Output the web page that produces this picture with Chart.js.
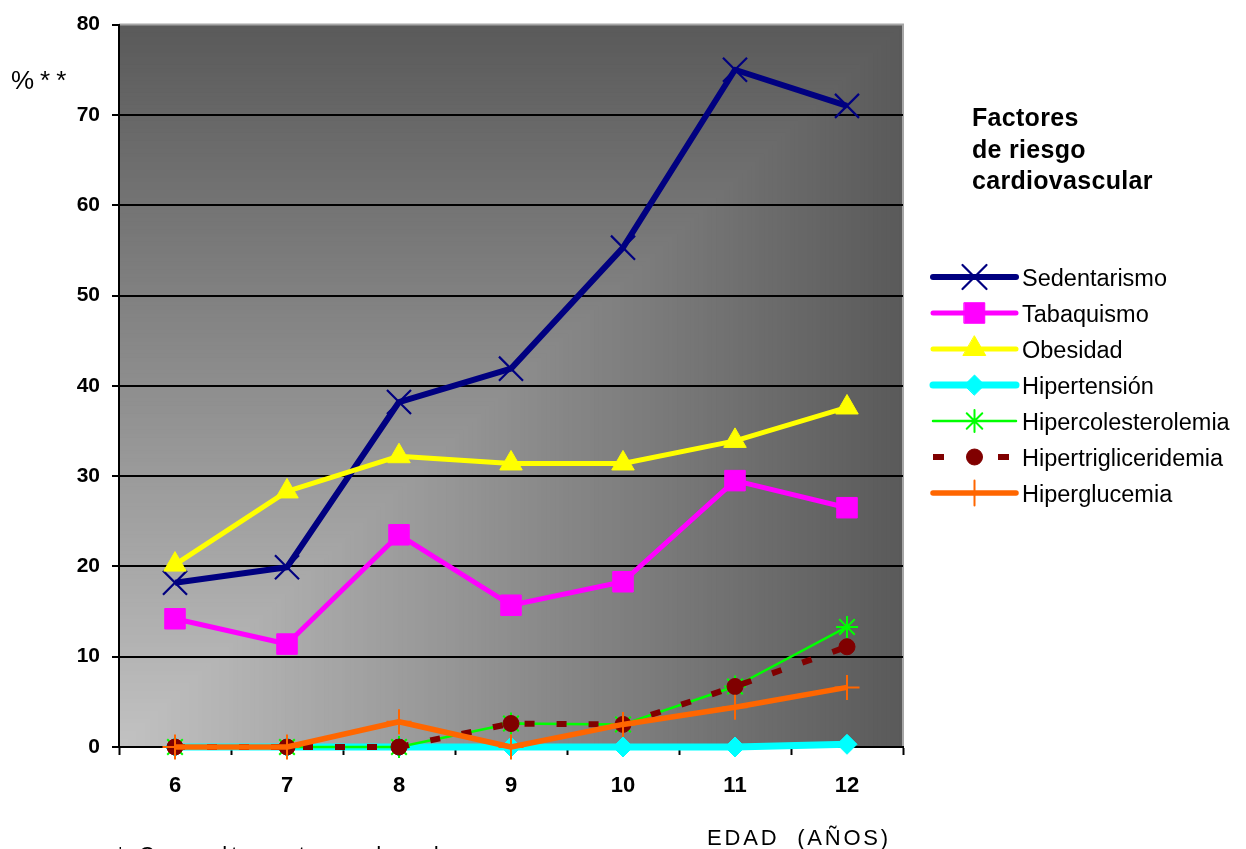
<!DOCTYPE html>
<html>
<head>
<meta charset="utf-8">
<script src="https://cdn.jsdelivr.net/npm/chart.js@4.4.1/dist/chart.umd.min.js"></script>
<style>
  html, body { margin: 0; padding: 0; background: #ffffff; }
  canvas { display: block; }
</style>
</head>
<body>
<canvas id="grafico" width="1246" height="849"></canvas>
<script>
// Edad (años) y porcentajes por factor de riesgo
const edades = ['6', '7', '8', '9', '10', '11', '12'];
const marcasY = [0, 10, 20, 30, 40, 50, 60, 70, 80];

const sedentarismo         = [18.2, 19.9, 38.2, 41.9, 55.3, 75.0, 71.0];
const tabaquismo           = [14.2, 11.4, 23.5, 15.7, 18.3, 29.5, 26.5];
const obesidad             = [20.2, 28.3, 32.2, 31.4, 31.4, 33.9, 37.6];
const hipertension         = [0, 0, 0, 0, 0, 0, 0.3];
const hipercolesterolemia  = [0, 0, 0, 2.6, 2.5, 6.7, 13.3];
const hipertrigliceridemia = [0, 0, 0, 2.6, 2.5, 6.7, 11.1];
const hiperglucemia        = [0, 0, 2.8, 0, 2.5, 4.4, 6.6];

const nombres = ['Sedentarismo', 'Tabaquismo', 'Obesidad', 'Hipertensión',
                 'Hipercolesterolemia', 'Hipertrigliceridemia', 'Hiperglucemia'];
const valores = [sedentarismo, tabaquismo, obesidad, hipertension,
                 hipercolesterolemia, hipertrigliceridemia, hiperglucemia];

// Estilo de cada serie (línea y marcador)
const estilos = [
  { color: '#000080', ancho: 6,   marca: 'crossRot', radio: 17,   borde: 2.2 },
  { color: '#ff00ff', ancho: 5,   marca: 'rect',     radio: 14.5, borde: 1 },
  { color: '#ffff00', ancho: 5,   marca: 'triangle', radio: 13,   borde: 1 },
  { color: '#00ffff', ancho: 7,   marca: 'rectRot',  radio: 10,   borde: 1 },
  { color: '#00ff00', ancho: 2.5, marca: 'star',     radio: 11,   borde: 2 },
  { color: '#800000', ancho: 6,   marca: 'circle',   radio: 8,    borde: 1, guion: [10, 22] },
  { color: '#ff6600', ancho: 5.5, marca: 'cross',    radio: 12.5, borde: 2 }
];

const FUENTE = "'Liberation Sans', Arial, Helvetica, sans-serif";

// Fondo degradado desde la esquina inferior izquierda del área de trazado
const fondo = {
  id: 'fondo',
  beforeDraw(chart) {
    const { ctx, chartArea: a } = chart;
    const w = a.right - a.left, h = a.bottom - a.top;
    const pasos = 180;
    ctx.save();
    for (let i = pasos; i >= 1; i--) {
      const t = i / pasos;
      const g = Math.round(194 - (194 - 90) * t);
      ctx.fillStyle = `rgb(${g},${g},${g})`;
      ctx.fillRect(a.left, a.bottom - h * t, w * t + 0.5, h * t + 0.5);
    }
    ctx.strokeStyle = '#a6a6a6';
    ctx.lineWidth = 2;
    ctx.beginPath();
    ctx.moveTo(a.left, a.top);
    ctx.lineTo(a.right, a.top);
    ctx.lineTo(a.right, a.bottom);
    ctx.stroke();
    ctx.restore();
  }
};

function marcador(ctx, est, x, y) {
  const h = Chart.helpers;
  ctx.fillStyle = est.color;
  ctx.strokeStyle = est.color;
  ctx.lineWidth = est.borde;
  ctx.setLineDash([]);
  if (h && h.drawPoint) {
    h.drawPoint(ctx, { pointStyle: est.marca, radius: est.radio, borderWidth: est.borde, rotation: 0 }, x, y);
  } else {
    ctx.beginPath();
    ctx.arc(x, y, est.radio, 0, Math.PI * 2);
    ctx.fill();
  }
}

// Textos: título de la leyenda, leyenda, títulos de ejes y nota
const textos = {
  id: 'textos',
  afterDraw(chart) {
    const ctx = chart.ctx;
    ctx.save();
    ctx.fillStyle = '#000';
    ctx.textAlign = 'left';
    ctx.textBaseline = 'alphabetic';

    ctx.font = `bold 25px ${FUENTE}`;
    ctx.letterSpacing = '0.3px';
    ['Factores', 'de riesgo', 'cardiovascular'].forEach((t, i) => {
      ctx.fillText(t, 972, 126 + i * 31.5);
    });
    ctx.letterSpacing = '0px';

    const x0 = 933, x1 = 1016, xm = 974.5;
    nombres.forEach((nombre, i) => {
      const est = estilos[i];
      const y = 277 + i * 36;
      ctx.save();
      ctx.strokeStyle = est.color;
      ctx.lineWidth = est.ancho;
      ctx.lineCap = est.guion ? 'butt' : 'round';
      ctx.setLineDash(est.guion ? [11, 54] : []);
      ctx.beginPath();
      ctx.moveTo(x0, y);
      ctx.lineTo(x1, y);
      ctx.stroke();
      marcador(ctx, est, xm, y);
      ctx.restore();
      ctx.fillStyle = '#000';
      ctx.font = `23.5px ${FUENTE}`;
      ctx.fillText(nombre, 1022, y + 8.5);
    });

    ctx.font = `26px ${FUENTE}`;
    ctx.letterSpacing = '6px';
    ctx.fillText('%**', 11, 89);

    ctx.font = `22px ${FUENTE}`;
    ctx.letterSpacing = '2.8px';
    ctx.fillText('EDAD  (AÑOS)', 707, 845);

    ctx.letterSpacing = '4px';
    ctx.fillText('* Consultas otorgadas de', 116, 862);
    ctx.restore();
  }
};

const datasets = nombres.map((nombre, i) => {
  const est = estilos[i];
  return {
    label: nombre,
    data: valores[i],
    borderColor: est.color,
    backgroundColor: est.color,
    borderWidth: est.ancho,
    borderDash: est.guion || [],
    borderCapStyle: 'butt',
    borderJoinStyle: 'round',
    pointStyle: est.marca,
    pointRadius: est.radio,
    pointHoverRadius: est.radio,
    pointBackgroundColor: est.color,
    pointBorderColor: est.color,
    pointBorderWidth: est.borde,
    tension: 0,
    fill: false,
    clip: false,
    order: nombres.length - 1 - i
  };
});

new Chart(document.getElementById('grafico'), {
  type: 'line',
  data: { labels: edades, datasets },
  plugins: [fondo, textos],
  options: {
    responsive: false,
    animation: false,
    events: [],
    layout: { padding: { left: 0, right: 343, top: 22, bottom: 0 } },
    plugins: { legend: { display: false }, tooltip: { enabled: false } },
    scales: {
      x: {
        type: 'category',
        offset: true,
        grid: {
          offset: true,
          drawOnChartArea: false,
          drawTicks: true,
          tickLength: 8,
          tickColor: '#000',
          tickWidth: 2
        },
        border: { display: true, color: '#000', width: 2 },
        ticks: {
          color: '#000',
          padding: 18,
          maxRotation: 0,
          font: { family: FUENTE, size: 22, weight: 'bold' }
        },
        afterFit(s) { s.height = 102; }
      },
      y: {
        min: 0,
        max: 80,
        afterBuildTicks(s) { s.ticks = marcasY.map(v => ({ value: v })); },
        grid: {
          color: c => (c.tick && c.tick.value === 80) ? 'rgba(0,0,0,0)' : '#000',
          lineWidth: 2,
          tickLength: 7,
          tickColor: '#000',
          tickWidth: 2
        },
        border: { display: true, color: '#000', width: 2 },
        ticks: {
          color: '#000',
          padding: 12,
          font: { family: FUENTE, size: 21, weight: 'bold' }
        },
        afterFit(s) { s.width = 119; }
      }
    }
  }
});
</script>
</body>
</html>
